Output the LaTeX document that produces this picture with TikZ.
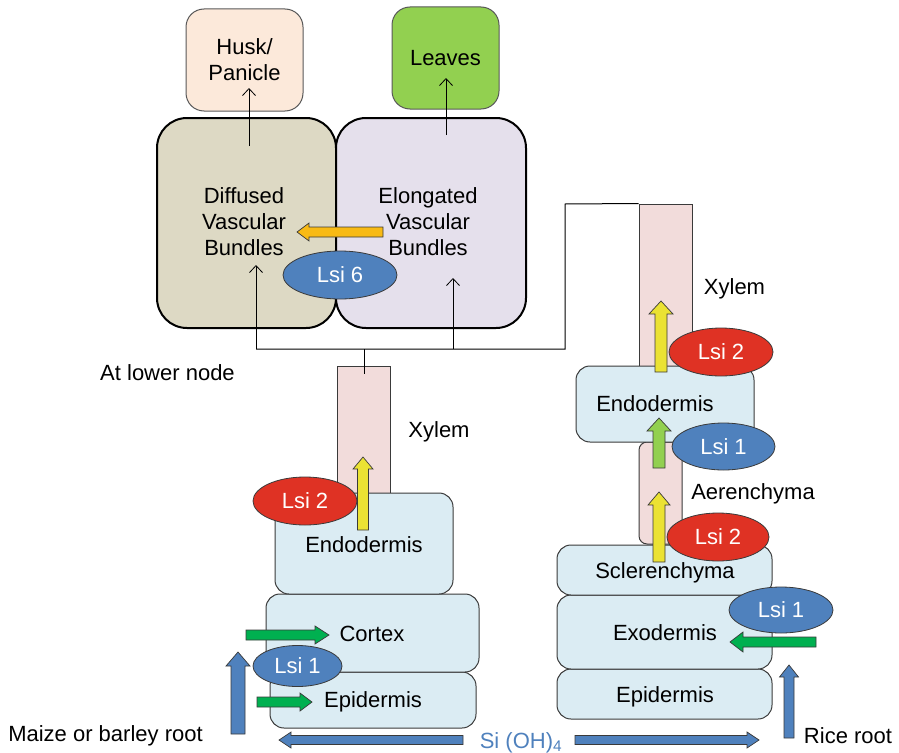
\documentclass[tikz,border=0pt]{standalone}
\usepackage{fontspec}
\setmainfont{Liberation Sans}
\usetikzlibrary{shapes.geometric,arrows.meta}
\definecolor{huskc}{HTML}{FCE9DA}
\definecolor{leafc}{HTML}{92D050}
\definecolor{dvbc}{HTML}{DDD9C4}
\definecolor{evbc}{HTML}{E5E0EC}
\definecolor{rootc}{HTML}{DBECF3}
\definecolor{xylc}{HTML}{F2DCDB}
\definecolor{lsiblue}{HTML}{4F81BD}
\definecolor{lsired}{HTML}{DF3224}
\definecolor{yel}{HTML}{EBE233}
\definecolor{grn}{HTML}{00B050}
\definecolor{lgrn}{HTML}{92D050}
\definecolor{orng}{HTML}{F8BA14}
\definecolor{edgec}{HTML}{3A3A3A}
% vertical block arrow: x, ybase, ytip, body half, head half, head length, fill
\newcommand\varrowshape[7]{%
  \filldraw[fill=#7, draw=edgec, line width=0.7pt]
    ({#1-#4},#2) -- ({#1-#4},{#3+#6}) -- ({#1-#5},{#3+#6}) -- (#1,#3)
    -- ({#1+#5},{#3+#6}) -- ({#1+#4},{#3+#6}) -- ({#1+#4},#2) -- cycle;}
% horizontal block arrow: y, xtail, xtip, body half, head half, signed head length, fill
\newcommand\harrowshape[7]{%
  \filldraw[fill=#7, draw=edgec, line width=0.7pt]
    (#2,{#1-#4}) -- ({#3-(#6)},{#1-#4}) -- ({#3-(#6)},{#1-#5}) -- (#3,#1)
    -- ({#3-(#6)},{#1+#5}) -- ({#3-(#6)},{#1+#4}) -- (#2,{#1+#4}) -- cycle;}
\begin{document}
\begin{tikzpicture}[x=1pt,y=-1pt,
  font=\fontsize{22}{26}\selectfont,
  bundle/.style={draw=black, line width=2pt, rounded corners=30pt, inner sep=0pt, align=center},
  organ/.style={draw=edgec!85, line width=1pt, rounded corners=18pt, inner sep=0pt, align=center},
  tissue/.style={draw=edgec, line width=1pt, fill=rootc, rounded corners=14pt, inner sep=0pt},
  vessel/.style={draw=edgec, line width=1pt, fill=xylc, inner sep=0pt},
  lsi/.style={ellipse, draw=edgec, line width=0.8pt, text=white, inner sep=0pt},
  lbl/.style={inner sep=0pt, text height=16pt, text depth=0pt},
  flow/.style={line width=0.8pt, -{Straight Barb[length=7pt,width=13pt]}},
  wire/.style={line width=1pt}]
\useasboundingbox (0,0) rectangle (899,752);

% ---------- top organs ----------
\node[organ, fill=huskc, minimum width=117pt, minimum height=102pt] (husk) at (244.5,60) {Husk/\\Panicle};
\node[organ, fill=leafc, minimum width=107pt, minimum height=102pt] (leaves) at (445.5,58) {Leaves};
\node[bundle, fill=dvbc, minimum width=179pt, minimum height=210pt] (dvb) at (246.5,223) {};
\node[bundle, fill=evbc, minimum width=190pt, minimum height=210pt] (evb) at (431,223) {};
\node[align=center, inner sep=0pt] (dvbt) at (244,222) {Diffused\\Vascular\\Bundles};
\node[align=center, inner sep=0pt] (evbt) at (428,222) {Elongated\\Vascular\\Bundles};
\harrowshape{232}{383}{297}{5}{9}{-12}{orng}
\node[lsi, fill=lsiblue, minimum width=114pt, minimum height=48pt] (lsisix) at (340,275) {Lsi 6};

\coordinate (huskout) at (249,146);
\coordinate (huskin) at (249,88);
\coordinate (leafout) at (446,135);
\coordinate (leafin) at (446,78);
\draw[flow] (huskout) -- (huskin);
\draw[flow] (leafout) -- (leafin);

% ---------- left root ----------
\node[vessel, minimum width=53pt, minimum height=127pt] (lxyl) at (363.5,429.5) {};
\node[tissue, minimum width=206pt, minimum height=56pt] (lepi) at (373,700) {};
\node[tissue, minimum width=213pt, minimum height=78pt] (lcor) at (372.5,633) {};
\node[tissue, minimum width=178pt, minimum height=101pt] (lendo) at (364,543.5) {};
\node[lbl] (lendot) at (364,544) {Endodermis};
\node[lbl] (lcort) at (372,633) {Cortex};
\node[lbl] (lepit) at (373,699) {Epidermis};
\node[lbl] (lxylt) at (439,429) {Xylem};
\node[lsi, fill=lsired, minimum width=104pt, minimum height=48pt] (llsitwo) at (305,501) {Lsi 2};
\varrowshape{363}{530}{457}{5.5}{10}{12}{yel}
\harrowshape{635}{246}{329}{5}{9}{14}{grn}
\harrowshape{702}{257}{312}{5}{9}{12}{grn}
\node[lsi, fill=lsiblue, minimum width=89pt, minimum height=41pt] (llsione) at (297.5,666) {Lsi 1};
\varrowshape{238}{734}{652}{7}{12}{14}{lsiblue}
\node[lbl] (maize) at (105.5,733) {Maize or barley root};
\node[lbl] (lower) at (167.5,372) {At lower node};

% ---------- right root ----------
\node[vessel, minimum width=53pt, minimum height=162pt] (rxyl) at (665.5,285) {};
\node[vessel, rounded corners=8pt, minimum width=43pt, minimum height=102pt] (raer) at (660.5,493) {};
\node[tissue, minimum width=178pt, minimum height=76pt] (rendo) at (665,404) {};
\node[tissue, minimum width=215pt, minimum height=50pt] (repi) at (664.5,694) {};
\node[tissue, minimum width=215pt, minimum height=74pt] (rexo) at (664.5,632) {};
\node[tissue, minimum width=215pt, minimum height=50pt] (rscl) at (664.5,570) {};
\node[lbl] (rendot) at (655,403) {Endodermis};
\node[lbl] (rsclt) at (665,570) {Sclerenchyma};
\node[lbl] (rexot) at (665,632) {Exodermis};
\node[lbl] (repit) at (665,694) {Epidermis};
\node[lbl] (rxylt) at (734.5,286) {Xylem};
\node[lbl] (raert) at (753,491) {Aerenchyma};
\varrowshape{661}{372}{301}{6}{12}{13}{yel}
\varrowshape{659}{468}{418}{6}{12}{13}{lgrn}
\varrowshape{659}{562}{492}{6}{11}{13}{yel}
\node[lsi, fill=lsired, minimum width=104pt, minimum height=48pt] (rlsitwoa) at (721,352) {Lsi 2};
\node[lsi, fill=lsiblue, minimum width=103pt, minimum height=47pt] (rlsionea) at (723.5,446.5) {Lsi 1};
\node[lsi, fill=lsired, minimum width=102pt, minimum height=48pt] (rlsitwob) at (718,537) {Lsi 2};
\node[lsi, fill=lsiblue, minimum width=104pt, minimum height=46pt] (rlsioneb) at (781,610) {Lsi 1};
\harrowshape{642}{816}{730}{5}{10}{-13}{grn}
\varrowshape{789}{738}{665}{5}{9.5}{12}{lsiblue}
\node[lbl] (rice) at (848,735) {Rice root};

% ---------- Si(OH)4 ----------
\node[lbl, text=lsiblue] (si) at (521,740) {Si (OH)\textsubscript{4}};
\harrowshape{740}{463}{279}{4.5}{8}{-12}{lsiblue}
\harrowshape{740}{575}{759}{4.5}{8}{12}{lsiblue}

% ---------- connectors ----------
\coordinate (jl) at (256,349);
\coordinate (jm) at (364,349);
\coordinate (jr) at (453,349);
\coordinate (jc) at (565,349);
\coordinate (jt) at (565,204);
\coordinate (lxin) at (364,374);
\coordinate (dvbin) at (256,265);
\coordinate (evbin) at (453,278);
\draw[wire] (jl) -- (jc) -- (jt) -- (rxyl.north west);
\draw[wire] (jm) -- (lxin);
\draw[flow] (jl) -- (dvbin);
\draw[flow] (jr) -- (evbin);
\end{tikzpicture}
\end{document}
